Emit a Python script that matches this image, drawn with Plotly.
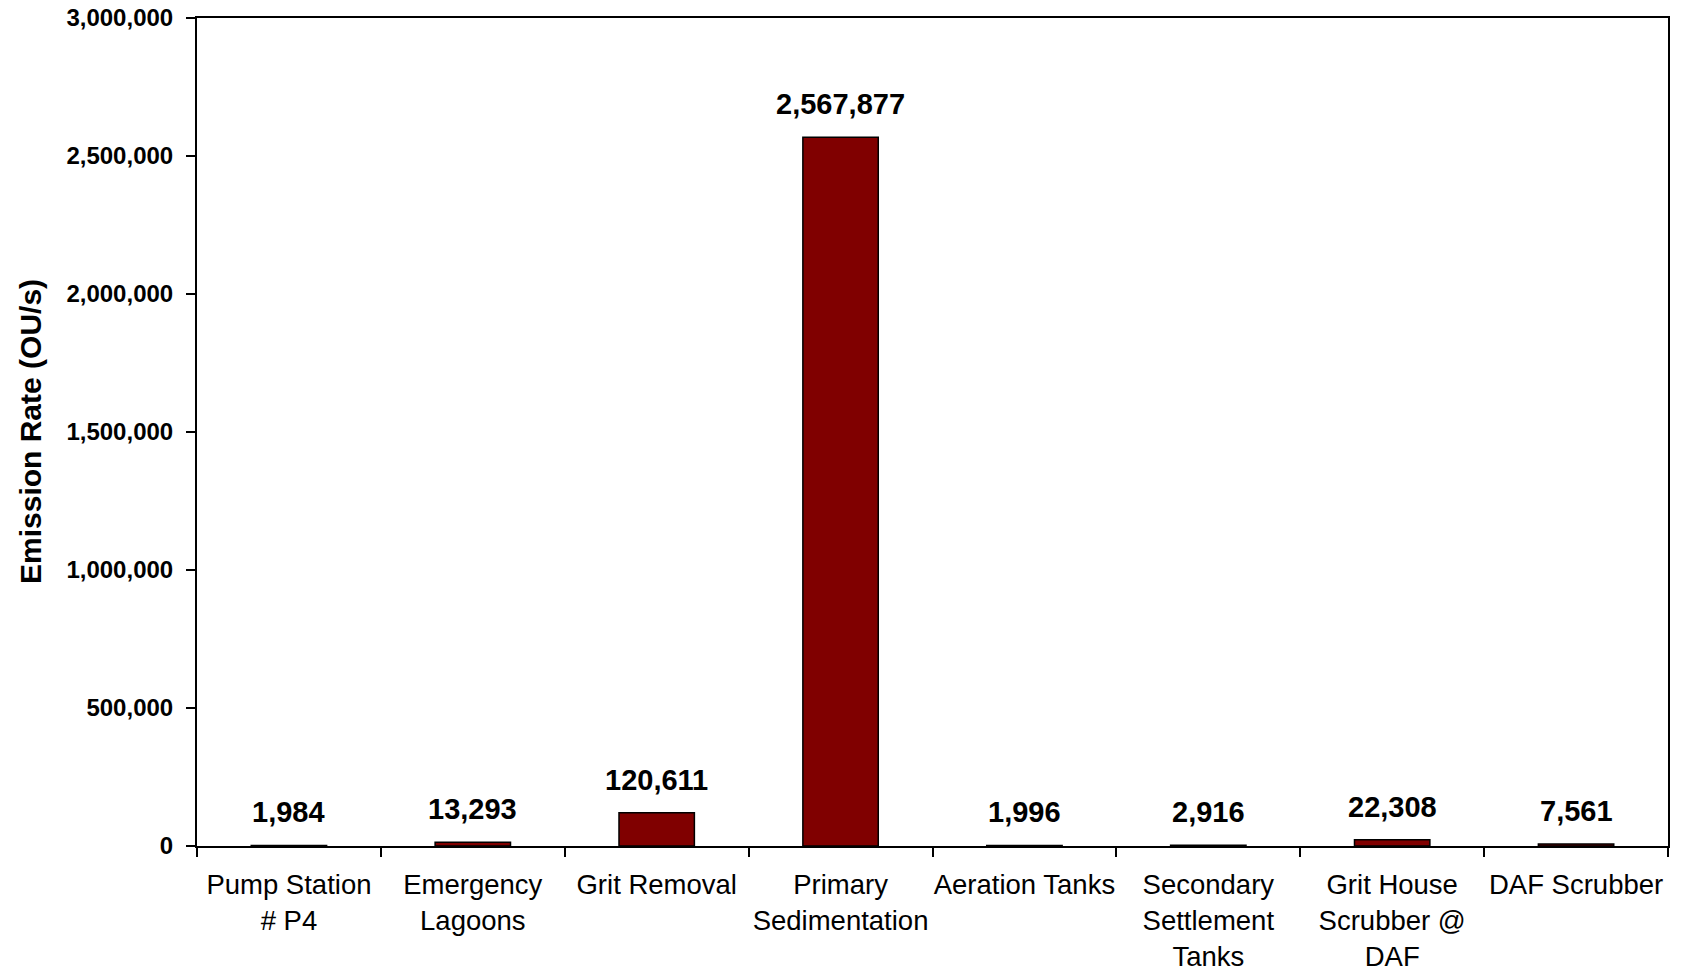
import plotly.graph_objects as go

categories = ["Pump Station<br># P4", "Emergency<br>Lagoons", "Grit Removal",
              "Primary<br>Sedimentation", "Aeration Tanks",
              "Secondary<br>Settlement<br>Tanks", "Grit House<br>Scrubber @<br>DAF",
              "DAF Scrubber"]
values = [1984, 13293, 120611, 2567877, 1996, 2916, 22308, 7561]
y_ticks = [0, 500000, 1000000, 1500000, 2000000, 2500000, 3000000]

fig = go.Figure()
fig.add_trace(go.Bar(
    x=categories, y=values,
    marker=dict(color="#800000", line=dict(color="black", width=1.5)),
    width=0.41,
))

for c, v in zip(categories, values):
    fig.add_annotation(x=c, y=v, text=f"{v:,}", showarrow=False,
                       yanchor="middle", yshift=33,
                       font=dict(family="Liberation Sans, Arial", size=29, color="black", weight="bold"))

W = 1682 - 197 - 14
fig.add_annotation(xref="paper", yref="paper", x=-(197 - 30) / W, y=0.5,
                   text="Emission Rate (OU/s)", textangle=-90, showarrow=False,
                   xanchor="center", yanchor="middle",
                   font=dict(family="Liberation Sans, Arial", size=30, color="black", weight="bold"))

fig.update_layout(
    width=1682, height=973,
    margin=dict(l=197, r=14, t=18, b=127),
    paper_bgcolor="white", plot_bgcolor="white",
    showlegend=False,
    font=dict(family="Liberation Sans, Arial", color="black"),
)
fig.update_xaxes(
    showline=True, linecolor="black", linewidth=2, mirror=True,
    ticks="outside", ticklen=9, tickwidth=2, tickcolor="black",
    tickson="boundaries", showgrid=False, tickangle=0, automargin=False,
    tickfont=dict(size=27.5, color="black"),
    ticklabelstandoff=13,
)
fig.update_yaxes(
    range=[0, 3000000], tickvals=y_ticks, tickformat=",d",
    showline=True, linecolor="black", linewidth=2, mirror=True,
    ticks="outside", ticklen=9, tickwidth=2, tickcolor="black",
    showgrid=False, zeroline=False, automargin=False,
    tickfont=dict(size=24, color="black", weight="bold"),
    ticklabelstandoff=8,
)

fig.write_html("out.html")
